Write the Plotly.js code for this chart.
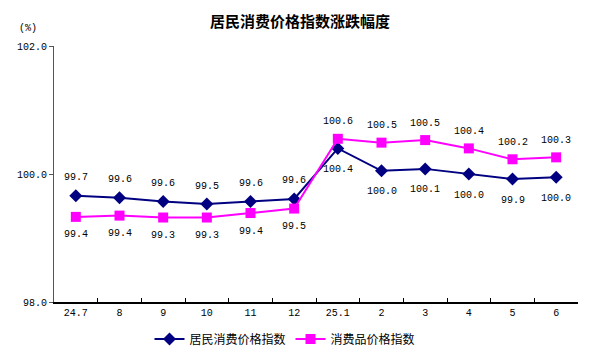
<!DOCTYPE html>
<html>
<head>
<meta charset="utf-8">
<script src="https://cdn.plot.ly/plotly-3.0.1.min.js"></script>
<style>html,body{margin:0;padding:0;background:#fff;}#chart{width:600px;height:358px;}</style>
</head>
<body>
<div id="chart"></div>
<script>
const categories = ["24.7","8","9","10","11","12","25.1","2","3","4","5","6"];
const cpiValues = [99.66, 99.63, 99.57, 99.53, 99.57, 99.61, 100.40, 100.05, 100.08, 100.00, 99.92, 99.95];
const cpiLabels = ["99.7","99.6","99.6","99.5","99.6","99.6","100.4","100.0","100.1","100.0","99.9","100.0"];
const goodsValues = [99.33, 99.35, 99.32, 99.32, 99.39, 99.46, 100.55, 100.49, 100.53, 100.40, 100.23, 100.26];
const goodsLabels = ["99.4","99.4","99.3","99.3","99.4","99.5","100.6","100.5","100.5","100.4","100.2","100.3"];
const cpiLabelAbove = [true,true,true,true,true,true,false,false,false,false,false,false];
const goodsLabelAbove = [false,false,false,false,false,false,true,true,true,true,true,true];
const yTicks = [98, 100, 102];
const yTickText = ["98.0","100.0","102.0"];

const numFont = {family: "'Liberation Mono', 'Noto Sans CJK SC', monospace", size: 10, color: "#000"};
const cjkFont = {family: "'Noto Sans CJK SC', sans-serif", size: 12, color: "#000"};

const traces = [
  {x: categories, y: cpiValues, name: "居民消费价格指数", type: "scatter", mode: "lines+markers",
   line: {color: "#000080", width: 2}, marker: {symbol: "diamond", size: 10, color: "#000080"}, cliponaxis: false},
  {x: categories, y: goodsValues, name: "消费品价格指数", type: "scatter", mode: "lines+markers",
   line: {color: "#FF00FF", width: 2}, marker: {symbol: "square", size: 10, color: "#FF00FF"}, cliponaxis: false}
];

const annotations = [];
categories.forEach((c, i) => {
  annotations.push({x: i, y: cpiValues[i], text: cpiLabels[i], showarrow: false, font: numFont,
    yshift: cpiLabelAbove[i] ? 18 : -21, xref: "x", yref: "y"});
  annotations.push({x: i, y: goodsValues[i], text: goodsLabels[i], showarrow: false, font: numFont,
    yshift: goodsLabelAbove[i] ? 17 : -18, xref: "x", yref: "y"});
});
annotations.push({xref: "paper", yref: "paper", x: -0.05, y: 1.07, text: "(%)", showarrow: false,
  font: numFont, xanchor: "center", yanchor: "middle"});

const layout = {
  width: 600, height: 358,
  paper_bgcolor: "#fff", plot_bgcolor: "#fff",
  margin: {l: 54, r: 22, t: 46, b: 56, autoexpand: false},
  title: {text: "<b>居民消费价格指数涨跌幅度</b>", x: 0.5, xref: "container", xanchor: "center",
    y: 1 - 22/358, yref: "container", yanchor: "middle",
    font: {family: "'Noto Sans CJK SC', sans-serif", size: 15, color: "#000"}},
  showlegend: true,
  legend: {orientation: "h", x: 0.475, xref: "container", xanchor: "center",
    y: 1 - 339/358, yref: "container", yanchor: "middle",
    font: cjkFont, bgcolor: "rgba(0,0,0,0)", itemwidth: 30},
  xaxis: {type: "category", range: [-0.5, categories.length - 0.5], autorange: false,
    tickson: "boundaries", ticks: "inside", ticklen: 4, tickcolor: "#000", tickangle: 0,
    showline: true, linecolor: "#000", linewidth: 1.5, showgrid: false, zeroline: false,
    tickfont: numFont, fixedrange: true},
  yaxis: {range: [98, 102], tickvals: yTicks, ticktext: yTickText, ticks: "outside", ticklen: 4,
    tickcolor: "#555", showline: true, linecolor: "#555", linewidth: 1, showgrid: false, zeroline: false,
    tickfont: numFont, fixedrange: true},
  annotations: annotations
};

Plotly.newPlot("chart", traces, layout, {displayModeBar: false, staticPlot: true});
</script>
</body>
</html>
